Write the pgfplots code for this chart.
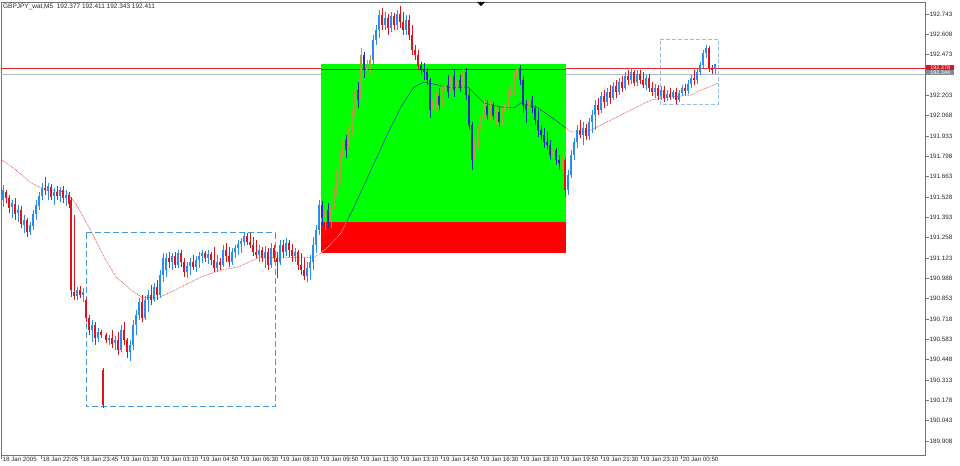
\documentclass[border=0pt]{standalone}
\usepackage{fontspec}
\setmainfont{Liberation Sans}
\usepackage{pgfplots}
\usepackage{pgfplotstable}
\pgfplotsset{compat=1.18}
\definecolor{upc}{RGB}{40,140,240}
\definecolor{dnc}{RGB}{220,20,30}
\definecolor{upg}{RGB}{176,160,64}
\definecolor{dng}{RGB}{28,48,176}
\definecolor{boxblue}{RGB}{70,150,220}
\definecolor{boxlight}{RGB}{150,190,230}
\definecolor{linegray}{RGB}{176,186,196}
\definecolor{labgray}{RGB}{128,140,152}
\definecolor{mared}{RGB}{225,30,30}
\definecolor{hlred}{RGB}{235,40,40}

\pgfplotstableread{
x o h l c
2 191.508 191.608 191.462 191.574
11 191.462 191.508 191.389 191.488
17 191.422 191.475 191.362 191.442
23 191.348 191.409 191.289 191.375
29 191.296 191.362 191.276 191.342
32 191.335 191.442 191.309 191.415
35 191.415 191.508 191.375 191.475
38 191.468 191.561 191.442 191.534
41 191.534 191.621 191.508 191.588
47 191.574 191.621 191.508 191.601
53 191.534 191.588 191.475 191.561
59 191.534 191.595 191.495 191.574
65 191.521 191.574 191.468 191.541
76 190.870 190.930 190.844 190.910
82 190.877 190.924 190.831 190.897
91 190.645 190.711 190.565 190.678
97 190.591 190.658 190.565 190.631
108 190.578 190.612 190.545 190.591
114 190.558 190.605 190.512 190.578
120 190.512 190.678 190.499 190.645
129 190.499 190.578 190.439 190.545
132 190.545 190.711 190.512 190.678
135 190.678 190.778 190.612 190.745
138 190.745 190.857 190.711 190.831
144 190.725 190.870 190.711 190.844
147 190.844 190.910 190.765 190.877
153 190.844 190.957 190.831 190.930
159 190.877 191.043 190.857 191.010
162 191.010 191.156 190.964 191.123
165 191.043 191.156 190.997 191.123
171 191.096 191.156 191.043 191.136
177 191.077 191.176 191.057 191.156
186 191.030 191.096 190.990 191.070
189 191.070 191.123 191.010 191.096
195 191.063 191.136 191.030 191.110
198 191.110 191.163 191.057 191.136
201 191.136 191.176 191.090 191.156
207 191.123 191.176 191.083 191.149
216 191.057 191.143 191.030 191.096
222 191.077 191.209 191.063 191.176
231 191.096 191.189 191.077 191.163
234 191.163 191.209 191.123 191.189
237 191.189 191.242 191.143 191.215
240 191.215 191.255 191.156 191.235
243 191.235 191.289 191.202 191.268
258 191.143 191.209 191.096 191.176
264 191.123 191.202 191.057 191.163
270 191.077 191.222 191.057 191.189
279 191.096 191.242 191.077 191.209
285 191.163 191.255 191.136 191.222
294 191.136 191.189 191.096 191.163
306 191.003 191.096 190.964 191.057
309 191.057 191.143 190.977 191.096
312 191.096 191.262 191.043 191.209
315 191.209 191.342 191.156 191.309
318 191.309 191.508 191.276 191.475
372 192.438 192.604 192.404 192.570
375 192.570 192.670 192.537 192.637
378 192.637 192.770 192.584 192.736
384 192.670 192.756 192.637 192.716
390 192.650 192.756 192.624 192.730
396 192.670 192.770 192.637 192.743
405 192.637 192.736 192.604 192.703
567 191.574 191.707 191.541 191.674
570 191.674 191.840 191.654 191.807
573 191.807 191.920 191.774 191.893
576 191.893 192.006 191.854 191.973
582 191.940 192.026 191.873 191.987
588 191.933 192.053 191.906 192.026
591 192.026 192.106 191.953 192.073
594 192.073 192.172 191.973 192.139
600 192.106 192.225 192.086 192.198
606 192.159 192.252 192.132 192.225
612 192.185 192.291 192.172 192.265
618 192.225 192.318 192.205 192.291
624 192.252 192.358 192.238 192.331
630 192.305 192.385 192.278 192.358
636 192.291 192.371 192.265 192.345
645 192.272 192.338 192.238 192.318
654 192.225 192.278 192.185 192.252
660 192.198 192.265 192.172 192.238
666 192.185 192.238 192.165 192.212
672 192.192 192.238 192.179 192.225
678 192.172 192.238 192.159 192.218
681 192.218 192.272 192.198 192.252
687 192.232 192.305 192.212 192.278
690 192.278 192.338 192.252 192.318
696 192.305 192.385 192.278 192.358
699 192.358 192.424 192.338 192.404
702 192.404 192.504 192.385 192.484
705 192.484 192.537 192.451 192.517
714 192.377 192.411 192.343 192.411
}\upA

\pgfplotstableread{
x o h l c
5 191.561 191.574 191.488 191.521
8 191.521 191.541 191.422 191.455
14 191.481 191.521 191.375 191.415
20 191.442 191.468 191.322 191.348
26 191.375 191.389 191.263 191.296
44 191.588 191.661 191.541 191.574
50 191.595 191.614 191.508 191.534
56 191.561 191.601 191.508 191.534
62 191.574 191.601 191.488 191.521
68 191.541 191.561 191.455 191.481
70 191.508 191.528 190.864 190.910
73 190.897 191.409 190.844 190.870
79 190.910 190.937 190.857 190.877
85 190.844 190.857 190.698 190.725
88 190.725 190.745 190.612 190.645
94 190.678 190.698 190.545 190.591
100 190.631 190.645 190.591 190.612
102 190.379 190.393 190.127 190.147
105 190.612 190.625 190.558 190.578
111 190.591 190.645 190.525 190.558
117 190.578 190.631 190.479 190.512
123 190.645 190.698 190.545 190.578
126 190.578 190.591 190.459 190.499
141 190.831 190.877 190.698 190.725
150 190.877 190.944 190.811 190.844
156 190.930 190.977 190.844 190.877
168 191.123 191.163 191.057 191.096
174 191.136 191.163 191.057 191.077
180 191.156 191.176 191.063 191.096
183 191.096 191.123 190.997 191.030
192 191.096 191.143 191.043 191.063
204 191.156 191.169 191.096 191.123
210 191.149 191.163 191.077 191.110
213 191.110 191.196 191.030 191.057
219 191.096 191.123 191.043 191.077
225 191.176 191.222 191.096 191.136
228 191.136 191.196 191.063 191.096
246 191.268 191.289 191.209 191.229
249 191.229 191.289 191.189 191.209
252 191.209 191.262 191.136 191.163
255 191.163 191.242 191.123 191.143
261 191.176 191.196 191.096 191.123
267 191.163 191.189 191.043 191.077
273 191.189 191.209 191.096 191.123
276 191.123 191.163 190.990 191.096
282 191.209 191.242 191.123 191.163
288 191.222 191.242 191.130 191.176
291 191.176 191.215 191.096 191.136
297 191.163 191.176 191.043 191.077
300 191.077 191.156 191.010 191.043
303 191.043 191.123 190.977 191.003
381 192.736 192.783 192.637 192.670
387 192.716 192.743 192.604 192.650
393 192.730 192.750 192.637 192.670
399 192.743 192.796 192.650 192.690
402 192.690 192.756 192.604 192.637
408 192.703 192.736 192.570 192.604
411 192.604 192.670 192.471 192.504
414 192.504 192.537 192.438 192.471
417 192.471 192.504 192.371 192.404
564 191.774 191.787 191.528 191.574
579 191.973 192.039 191.920 191.940
585 191.987 192.013 191.906 191.933
597 192.139 192.185 192.073 192.106
603 192.198 192.238 192.119 192.159
609 192.225 192.272 192.145 192.185
615 192.265 192.305 192.185 192.225
621 192.291 192.331 192.225 192.252
627 192.331 192.371 192.272 192.305
633 192.358 192.371 192.265 192.291
639 192.345 192.371 192.278 192.305
642 192.305 192.358 192.252 192.272
648 192.318 192.345 192.225 192.252
651 192.252 192.291 192.198 192.225
657 192.252 192.272 192.172 192.198
663 192.238 192.265 192.159 192.185
669 192.212 192.252 192.172 192.192
675 192.225 192.252 192.145 192.172
684 192.252 192.278 192.205 192.232
693 192.318 192.371 192.272 192.305
708 192.517 192.531 192.358 192.385
711 192.385 192.404 192.345 192.371
}\dnA

\pgfplotstableread{
x o h l c
324 191.389 191.475 191.309 191.442
330 191.362 191.574 191.322 191.475
333 191.475 191.595 191.442 191.541
336 191.541 191.740 191.508 191.707
339 191.707 191.827 191.608 191.787
342 191.787 191.953 191.761 191.906
348 191.840 192.053 191.807 192.006
351 192.006 192.106 191.940 192.073
354 192.073 192.285 192.053 192.238
360 192.172 192.517 192.152 192.471
366 192.371 192.438 192.325 192.404
369 192.404 192.471 192.338 192.438
432 192.106 192.205 192.059 192.172
435 192.172 192.225 192.092 192.198
441 192.145 192.272 192.119 192.238
444 192.238 192.305 192.172 192.272
450 192.225 192.371 192.205 192.331
456 192.238 192.358 192.205 192.305
462 192.252 192.391 192.225 192.358
474 191.774 191.940 191.741 191.906
477 191.906 192.006 191.840 191.973
480 191.973 192.106 191.940 192.073
483 192.073 192.172 192.039 192.132
489 192.073 192.172 192.026 192.139
495 192.066 192.119 192.006 192.092
501 192.026 192.119 192.006 192.092
504 192.092 192.172 192.053 192.145
507 192.145 192.238 192.106 192.205
510 192.205 192.305 192.172 192.272
513 192.272 192.358 192.205 192.318
516 192.318 192.411 192.291 192.385
528 192.106 192.205 192.073 192.172
552 191.807 191.873 191.727 191.840
561 191.754 191.801 191.707 191.774
}\upG

\pgfplotstableread{
x o h l c
321 191.475 191.501 191.342 191.389
327 191.442 191.488 191.322 191.362
345 191.906 191.940 191.787 191.840
357 192.238 192.291 192.119 192.172
363 192.471 192.491 192.318 192.371
420 192.404 192.424 192.338 192.371
423 192.371 192.418 192.305 192.358
426 192.358 192.385 192.272 192.305
429 192.305 192.318 192.053 192.106
438 192.198 192.252 192.106 192.145
447 192.272 192.338 192.185 192.225
453 192.331 192.371 192.192 192.238
459 192.305 192.338 192.225 192.252
465 192.358 192.385 192.172 192.205
468 192.205 192.252 191.973 192.006
471 192.006 192.026 191.707 191.774
486 192.132 192.172 192.039 192.073
492 192.139 192.159 192.039 192.066
498 192.092 192.125 191.993 192.026
519 192.385 192.404 192.272 192.305
522 192.305 192.331 192.086 192.139
525 192.139 192.172 192.019 192.106
531 192.172 192.198 192.086 192.119
534 192.119 192.139 192.006 192.039
537 192.039 192.106 191.926 191.973
540 191.973 192.006 191.906 191.940
543 191.940 191.987 191.854 191.893
546 191.893 191.960 191.840 191.873
549 191.873 191.906 191.774 191.807
555 191.840 191.853 191.741 191.774
558 191.774 191.807 191.707 191.754
}\dnG

\newcommand{\candles}[2]{%
\addplot[forget plot, draw=none, mark=none, error bars/.cd, y dir=both, y explicit, error mark=none,
  error bar style={draw=#2, line width=0.9bp, solid}]
  table[x=x, y expr={(\thisrow{h}+\thisrow{l})/2}, y error expr={(\thisrow{h}-\thisrow{l})/2}] {#1};
\addplot[forget plot, draw=none, mark=none, error bars/.cd, y dir=both, y explicit, error mark=none,
  error bar style={draw=#2, line width=1.7bp, solid}]
  table[x=x, y expr={(\thisrow{o}+\thisrow{c})/2}, y error expr={abs(\thisrow{o}-\thisrow{c})/2+0.0015}] {#1};
}

\begin{document}
\begin{tikzpicture}
\begin{axis}[
  at={(1bp,11bp)}, anchor=south west,
  scale only axis, width=924bp, height=453bp,
  xmin=0, xmax=924, ymin=189.8148, ymax=192.8227,
  clip=false,
  axis line style={draw=black!55, line width=0.6bp},
  tick style={draw=black!55, line width=0.5bp},
  tick align=outside,
  xtick pos=bottom, ytick pos=right, yticklabel pos=right,
  major tick length=4bp,
  xtick={0,40,...,680},
  xticklabels={18 Jan 2005, 18 Jan 22:05, 18 Jan 23:45, 19 Jan 01:30, 19 Jan 03:10, 19 Jan 04:50, 19 Jan 06:30, 19 Jan 08:10, 19 Jan 09:50, 19 Jan 11:30, 19 Jan 13:10, 19 Jan 14:50, 19 Jan 16:30, 19 Jan 18:10, 19 Jan 19:50, 19 Jan 21:30, 19 Jan 23:10, 20 Jan 00:50},
  ytick={189.908,190.043,190.178,190.313,190.448,190.583,190.718,190.853,190.988,191.123,191.258,191.393,191.528,191.663,191.798,191.933,192.068,192.203,192.473,192.608,192.743},
  yticklabels={189.908,190.043,190.178,190.313,190.448,190.583,190.718,190.853,190.988,191.123,191.258,191.393,191.528,191.663,191.798,191.933,192.068,192.203,192.473,192.608,192.743},
  every tick label/.append style={font=\fontsize{6.3}{7}\selectfont, text=black!85},
  xticklabel style={anchor=north west, inner sep=0pt, xshift=1.5bp, font=\fontsize{6.2}{7}\selectfont},
  xticklabel shift=-2.5bp,
  yticklabel style={anchor=west, inner sep=0pt, xshift=0.5bp},
]
% zones
\addplot[fill=green, draw=none, forget plot] coordinates {(320,191.362) (565,191.362) (565,192.411) (320,192.411)};
\addplot[fill=red, draw=none, forget plot] coordinates {(320,191.156) (565,191.156) (565,191.362) (320,191.362)};
% dashed rectangles
\addplot[draw=boxblue, line width=1bp, dash pattern=on 6bp off 3bp, forget plot] coordinates {(85,191.289) (274,191.289) (274,190.134) (85,190.134) (85,191.289)};
\addplot[draw=boxlight, line width=0.8bp, dash pattern=on 4bp off 2bp, forget plot] coordinates {(659,192.577) (717,192.577) (717,192.145) (659,192.145) (659,192.577)};
% moving average
\addplot[draw=mared, line width=0.5bp, dash pattern=on 0.8bp off 0.8bp, forget plot] coordinates {(1,191.774)(15,191.707)(30,191.621)(45,191.574)(55,191.568)(65,191.561)(75,191.481)(90,191.302)(103,191.130)(115,190.997)(130,190.910)(140,190.864)(157,190.857)(170,190.897)(180,190.930)(200,190.997)(220,191.043)(237,191.063)(257,191.123)(280,191.123)(300,191.130)(312,191.123)(320,191.156)};
\addplot[draw=white, line width=0.5bp, dash pattern=on 0.8bp off 0.8bp, forget plot] coordinates {(320,191.156)(327,191.196)(340,191.289)(345.5,191.362)};
\addplot[draw=dng, line width=0.5bp, forget plot] coordinates {(345.5,191.362)(353,191.462)(370,191.707)(387,191.953)(400,192.126)(413,192.258)(423,192.291)(437,192.272)(450,192.252)(467,192.258)(473,192.218)(483,192.152)(500,192.126)(513,192.119)(520,192.152)(537,192.119)(550,192.059)(565,191.986)};
\addplot[draw=mared, line width=0.5bp, dash pattern=on 0.8bp off 0.8bp, forget plot] coordinates {(565,191.986)(570,191.960)(583,191.960)(590,191.973)(610,192.039)(630,192.106)(650,192.172)(670,192.192)(690,192.205)(700,192.238)(713,192.272)(717,192.285)};
% price lines
\addplot[draw=linegray, line width=0.8bp, forget plot] coordinates {(0,192.345) (320,192.345)};
\addplot[draw=linegray, line width=0.8bp, forget plot] coordinates {(565,192.345) (924,192.345)};
\addplot[draw=hlred, line width=1bp, forget plot] coordinates {(0,192.378) (320,192.378)};
\addplot[draw=dng, line width=0.8bp, forget plot] coordinates {(320,192.378) (565,192.378)};
\addplot[draw=hlred, line width=1bp, forget plot] coordinates {(565,192.378) (924,192.378)};
% candles
\candles{\upA}{upc}
\candles{\dnA}{dnc}
\candles{\upG}{upg}
\candles{\dnG}{dng}
% price tags
\node[fill=dnc, text=white, anchor=west, inner sep=0pt, minimum width=28bp, minimum height=5bp, font=\fontsize{5.5}{5.5}\selectfont] at (axis cs:925,192.389) {192.378};
\node[fill=labgray, text=white, anchor=west, inner sep=0pt, minimum width=28bp, minimum height=5bp, font=\fontsize{5.5}{5.5}\selectfont] at (axis cs:925,192.355) {192.344};
% header
\node[anchor=north west, inner sep=0pt, font=\fontsize{6.5}{7}\selectfont, text=black!85] at (rel axis cs:0,1) [xshift=2bp, yshift=-2bp] {GBPJPY\_wat,M5\ \ 192.377 192.411 192.343 192.411};
\fill[black] (axis cs:476,192.8227) -- (axis cs:484,192.8227) -- (axis cs:480,192.796) -- cycle;
\end{axis}
\pgfresetboundingbox
\path[use as bounding box] (0,0) rectangle (960bp,466bp);
\end{tikzpicture}
\end{document}
